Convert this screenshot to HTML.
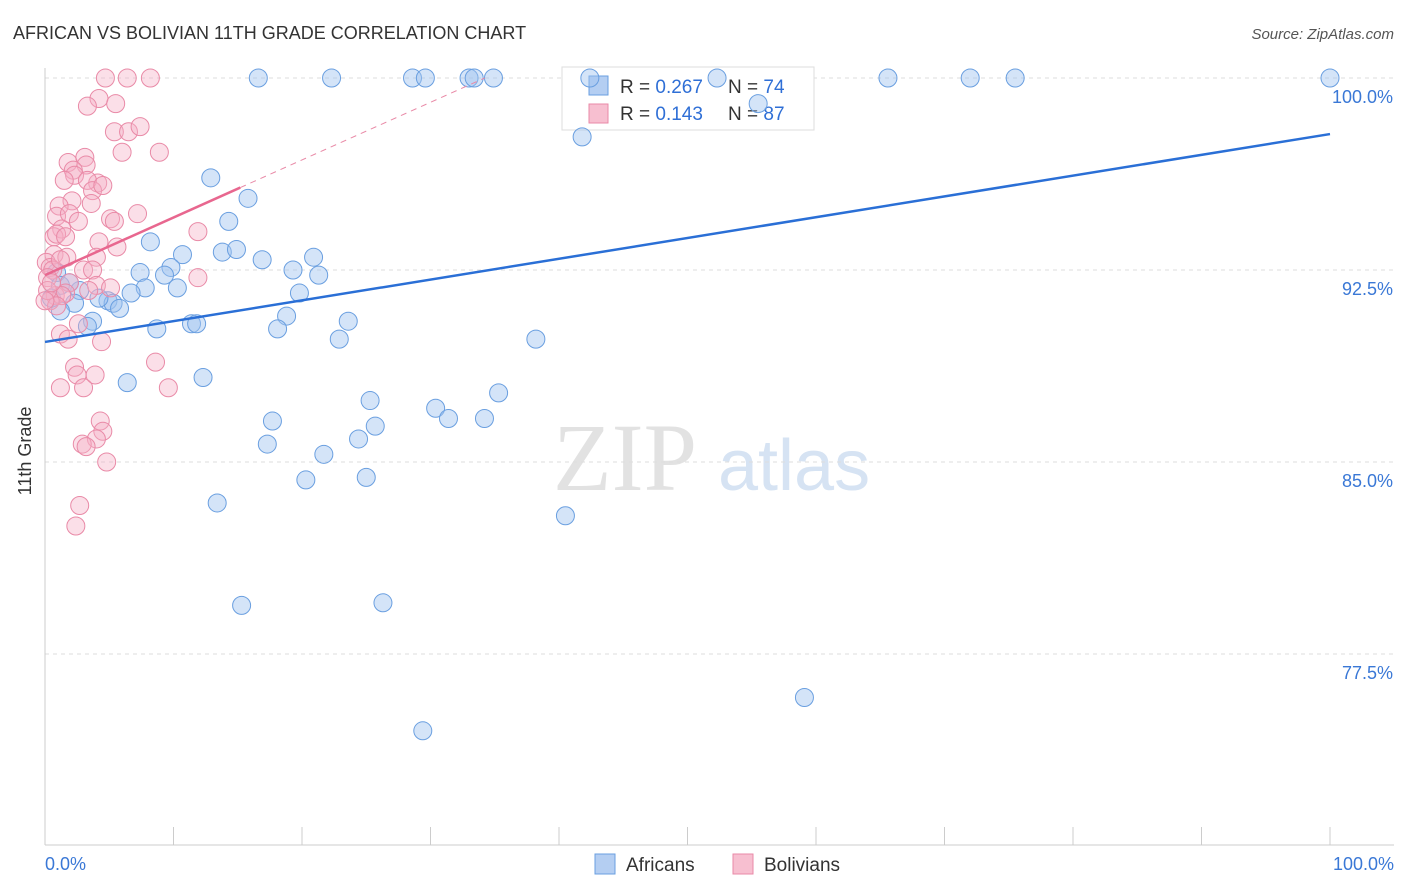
<!DOCTYPE html>
<html><head><meta charset="utf-8">
<style>
body{margin:0;background:#fff;font-family:"Liberation Sans",sans-serif;}
svg{display:block}
</style></head>
<body>
<svg id="chart" width="1406" height="892" xmlns="http://www.w3.org/2000/svg">
<text x="13" y="39" font-size="18" fill="#333">AFRICAN VS BOLIVIAN 11TH GRADE CORRELATION CHART</text>
<text x="1394" y="39" font-size="15" fill="#555" font-style="italic" text-anchor="end">Source: ZipAtlas.com</text>
<text x="36" y="456" font-size="18" fill="#333" transform="rotate(-90 31 456)" text-anchor="middle">11th Grade</text>
<g>
<text x="553" y="490" font-family="Liberation Serif,serif" font-size="96" fill="#e2e2e2">ZIP</text>
<text x="718" y="490" font-size="72" fill="#d6e3f3">atlas</text>
</g>
<g id="grid"></g>
<g id="axes"></g>
<g>
<rect x="562" y="67" width="252" height="63" fill="#fff" stroke="#ddd"/>
<rect x="589" y="76" width="19" height="19" fill="#b4cef2" stroke="#6a9fe0"/>
<rect x="589" y="104" width="19" height="19" fill="#f7bfd0" stroke="#e98aa7"/>
<text x="620" y="93" font-size="19" fill="#333">R = <tspan fill="#2f6fd6">0.267</tspan></text>
<text x="728" y="93" font-size="19" fill="#333">N = <tspan fill="#2f6fd6">74</tspan></text>
<text x="620" y="120" font-size="19" fill="#333">R = <tspan fill="#2f6fd6">0.143</tspan></text>
<text x="728" y="120" font-size="19" fill="#333">N = <tspan fill="#2f6fd6">87</tspan></text>
</g>
<g id="marks"></g>
<g>
<rect x="595" y="854" width="20" height="20" fill="#b4cef2" stroke="#6a9fe0"/>
<text x="626" y="871" font-size="19" fill="#333">Africans</text>
<rect x="733" y="854" width="20" height="20" fill="#f7bfd0" stroke="#e98aa7"/>
<text x="764" y="871" font-size="19" fill="#333">Bolivians</text>
</g>
</svg>
<script>
const yTicks=[100,92.5,85,77.5];
const yTickLabels=["100.0%","92.5%","85.0%","77.5%"];
const xTickLabels=["0.0%","100.0%"];
const afX=[16.6,22.3,28.6,29.6,33.0,33.4,34.9,42.4,52.3,65.6,72.0,75.5,100,55.5,41.8,12.9,15.8,14.3,8.2,13.8,14.9,10.7,16.9,20.9,9.8,7.4,9.3,19.3,21.3,7.8,10.3,6.7,19.8,2.7,4.9,5.3,5.8,4.2,2.3,1.2,3.7,3.3,18.8,8.7,11.4,11.8,18.1,23.6,22.9,38.2,6.4,12.3,35.3,25.3,30.4,31.4,34.2,17.7,25.7,24.4,17.3,21.7,20.3,25.0,13.4,40.5,15.3,26.3,59.1,29.4,0.9,1.2,0.5,1.9];
const afY=[100,100,100,100,100,100,100,100,100,100,100,100,100,99.0,97.7,96.1,95.3,94.4,93.6,93.2,93.3,93.1,92.9,93.0,92.6,92.4,92.3,92.5,92.3,91.8,91.8,91.6,91.6,91.7,91.3,91.2,91.0,91.4,91.2,90.9,90.5,90.3,90.7,90.2,90.4,90.4,90.2,90.5,89.8,89.8,88.1,88.3,87.7,87.4,87.1,86.7,86.7,86.6,86.4,85.9,85.7,85.3,84.3,84.4,83.4,82.9,79.4,79.5,75.8,74.5,92.4,91.9,91.4,92.0];
const boX=[4.7,6.4,8.2,4.2,5.5,3.3,5.4,6.5,7.4,8.9,6.0,1.8,3.1,3.2,2.2,2.3,1.5,4.1,3.3,3.7,4.5,2.1,3.6,1.1,0.9,1.9,5.1,7.2,5.4,2.6,1.3,0.7,0.9,1.6,11.9,4.2,5.6,0.7,1.7,0.1,0.4,4.0,0.6,3.0,3.7,11.9,0.2,1.9,4.0,5.1,0.8,1.6,3.4,1.3,0.4,0.9,2.6,1.2,1.8,4.4,8.6,2.3,2.5,9.6,1.2,3.0,3.9,4.3,4.5,4.0,2.9,3.2,4.8,2.7,2.4,0.2,0.5,1.2,0];
const boY=[100,100,100,99.2,99.0,98.9,97.9,97.9,98.1,97.1,97.1,96.7,96.9,96.6,96.4,96.2,96.0,95.9,96.0,95.6,95.8,95.2,95.1,95.0,94.6,94.7,94.5,94.7,94.4,94.4,94.1,93.8,93.9,93.8,94.0,93.6,93.4,93.1,93.0,92.8,92.6,93.0,92.5,92.5,92.5,92.2,92.2,92.0,91.9,91.8,91.5,91.6,91.7,91.5,91.3,91.1,90.4,90.0,89.8,89.7,88.9,88.7,88.4,87.9,87.9,87.9,88.4,86.6,86.2,85.9,85.7,85.6,85.0,83.3,82.5,91.7,92.0,92.9,91.3];
const afLine=[89.69,97.81];
const boLine=[92.3,0.225];
const NS="http://www.w3.org/2000/svg";
const X=v=>45+v*12.85, Y=v=>78+(100-v)*25.6;
function mk(tag,attrs,parent){const e=document.createElementNS(NS,tag);for(const k in attrs)e.setAttribute(k,attrs[k]);parent.appendChild(e);return e;}
const grid=document.getElementById('grid'),axes=document.getElementById('axes'),marks=document.getElementById('marks');
yTicks.forEach((t,i)=>{
 const l=mk('line',{x1:45,x2:1394,y1:Y(t),y2:Y(t),stroke:'#ddd','stroke-dasharray':'4,4'},grid);
 
 
 const tx=mk('text',{x:1393,y:Y(t)+25,'font-size':18,fill:'#3a78d6','text-anchor':'end'},axes);
 tx.textContent=yTickLabels[i];
 
 
});
const la=mk('line',{x1:45,x2:45,y1:68,y2:845,stroke:'#ccc'},axes);


const lb=mk('line',{x1:45,x2:1394,y1:845,y2:845,stroke:'#ccc'},axes);


for(let i=0;i<=10;i++){const t=mk('line',{x1:X(i*10),x2:X(i*10),y1:827,y2:845,stroke:'#ccc'},axes);
 
 }
[[0,'start',45],[100,'end',1394]].forEach((a,i)=>{const t=mk('text',{x:a[2],y:870,'font-size':18,fill:'#3a78d6','text-anchor':a[1]},axes);t.textContent=xTickLabels[i];
 
 });
afX.forEach((x,i)=>{const c=mk('circle',{cx:X(x),cy:Y(afY[i]),r:9,fill:'rgba(160,195,240,0.45)',stroke:'#6a9fe0','stroke-width':1},marks);
 
 });
boX.forEach((x,i)=>{const c=mk('circle',{cx:X(x),cy:Y(boY[i]),r:9,fill:'rgba(245,175,198,0.4)',stroke:'#e98aa7','stroke-width':1},marks);
 
 });
const r1=mk('line',{x1:X(0),y1:Y(afLine[0]),x2:X(100),y2:Y(afLine[1]),stroke:'#2a6fd6','stroke-width':2.5},marks);


const xe=(100-boLine[0])/boLine[1];
const r2=mk('line',{x1:X(15.2),y1:Y(boLine[0]+boLine[1]*15.2),x2:X(xe),y2:Y(100),stroke:'#e98aa7','stroke-width':1,'stroke-dasharray':'6,5'},marks);


const r3=mk('line',{x1:X(0),y1:Y(boLine[0]),x2:X(15.2),y2:Y(boLine[0]+boLine[1]*15.2),stroke:'#e8678f','stroke-width':2.5},marks);


</script>
</body></html>
